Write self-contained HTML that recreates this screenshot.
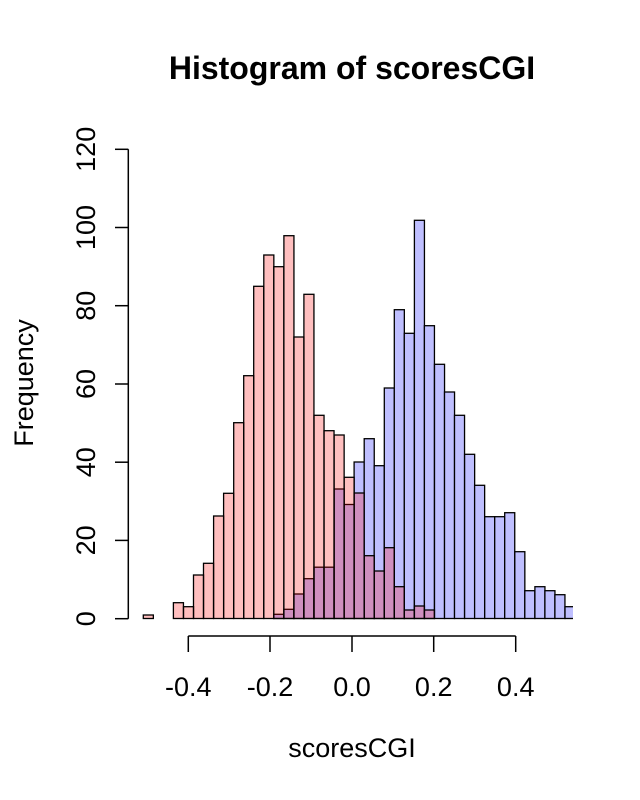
<!DOCTYPE html>
<html><head><meta charset="utf-8"><style>
html,body{margin:0;padding:0;background:#fff;}
svg{display:block;}
text{font-family:"Liberation Sans",Arial,sans-serif;fill:#000;}
</style></head><body>
<svg width="640" height="800" viewBox="0 0 640 800" xmlns="http://www.w3.org/2000/svg">
<defs><clipPath id="c"><rect x="100" y="100" width="473" height="530"/></clipPath></defs>
<text x="352" y="79" font-size="32" font-weight="bold" text-anchor="middle">Histogram of scoresCGI</text>
<text x="352" y="757" font-size="27" text-anchor="middle">scoresCGI</text>
<text transform="translate(33,383) rotate(-90)" font-size="27" text-anchor="middle">Frequency</text>
<g clip-path="url(#c)" stroke="#000" stroke-width="1.3">
<g fill="rgb(191,191,255)">
<rect x="273.8" y="614.3" width="10.04" height="4.2"/>
<rect x="283.9" y="609.3" width="10.04" height="9.2"/>
<rect x="293.9" y="594" width="10.04" height="24.5"/>
<rect x="303.9" y="578.7" width="10.04" height="39.8"/>
<rect x="314.0" y="567.2" width="10.04" height="51.3"/>
<rect x="324.0" y="567.2" width="10.04" height="51.3"/>
<rect x="334.1" y="489" width="10.04" height="129.5"/>
<rect x="344.1" y="504.5" width="10.04" height="114"/>
<rect x="354.1" y="462" width="10.04" height="156.5"/>
<rect x="364.2" y="438.7" width="10.04" height="179.8"/>
<rect x="374.2" y="465.7" width="10.04" height="152.8"/>
<rect x="384.3" y="388" width="10.04" height="230.5"/>
<rect x="394.3" y="309.7" width="10.04" height="308.8"/>
<rect x="404.3" y="333.3" width="10.04" height="285.2"/>
<rect x="414.4" y="220.3" width="10.04" height="398.2"/>
<rect x="424.4" y="325.7" width="10.04" height="292.8"/>
<rect x="434.5" y="364.3" width="10.04" height="254.2"/>
<rect x="444.5" y="392" width="10.04" height="226.5"/>
<rect x="454.5" y="415.3" width="10.04" height="203.2"/>
<rect x="464.6" y="454.3" width="10.04" height="164.2"/>
<rect x="474.6" y="485.3" width="10.04" height="133.2"/>
<rect x="484.7" y="516.7" width="10.04" height="101.8"/>
<rect x="494.7" y="516.7" width="10.04" height="101.8"/>
<rect x="504.7" y="512.7" width="10.04" height="105.8"/>
<rect x="514.8" y="551.7" width="10.04" height="66.8"/>
<rect x="524.8" y="590.7" width="10.04" height="27.8"/>
<rect x="534.9" y="586.7" width="10.04" height="31.8"/>
<rect x="544.9" y="590.7" width="10.04" height="27.8"/>
<rect x="554.9" y="594.7" width="10.04" height="23.8"/>
<rect x="565.0" y="606.7" width="10.04" height="11.8"/>
</g>
<g fill="rgba(255,0,0,0.25)">
<rect x="143.3" y="615" width="10.04" height="3.5"/>
<rect x="153.3" y="618.5" width="10.04" height="0"/>
<rect x="163.4" y="618.5" width="10.04" height="0"/>
<rect x="173.4" y="602.7" width="10.04" height="15.8"/>
<rect x="183.5" y="606.7" width="10.04" height="11.8"/>
<rect x="193.5" y="575" width="10.04" height="43.5"/>
<rect x="203.5" y="563.3" width="10.04" height="55.2"/>
<rect x="213.6" y="516" width="10.04" height="102.5"/>
<rect x="223.6" y="493.3" width="10.04" height="125.2"/>
<rect x="233.7" y="422.7" width="10.04" height="195.8"/>
<rect x="243.7" y="375.7" width="10.04" height="242.8"/>
<rect x="253.7" y="286.3" width="10.04" height="332.2"/>
<rect x="263.8" y="255" width="10.04" height="363.5"/>
<rect x="273.8" y="266.7" width="10.04" height="351.8"/>
<rect x="283.9" y="235.7" width="10.04" height="382.8"/>
<rect x="293.9" y="337" width="10.04" height="281.5"/>
<rect x="303.9" y="294.3" width="10.04" height="324.2"/>
<rect x="314.0" y="415.3" width="10.04" height="203.2"/>
<rect x="324.0" y="430.7" width="10.04" height="187.8"/>
<rect x="334.1" y="435" width="10.04" height="183.5"/>
<rect x="344.1" y="477.3" width="10.04" height="141.2"/>
<rect x="354.1" y="493" width="10.04" height="125.5"/>
<rect x="364.2" y="555.7" width="10.04" height="62.8"/>
<rect x="374.2" y="571" width="10.04" height="47.5"/>
<rect x="384.3" y="547.7" width="10.04" height="70.8"/>
<rect x="394.3" y="586.7" width="10.04" height="31.8"/>
<rect x="404.3" y="610" width="10.04" height="8.5"/>
<rect x="414.4" y="606" width="10.04" height="12.5"/>
<rect x="424.4" y="610" width="10.04" height="8.5"/>
</g>
</g>
<g stroke="#000" stroke-width="1.5" fill="none">
<line x1="128.3" y1="149.3" x2="128.3" y2="618.7"/>
<line x1="115" y1="149.3" x2="128.3" y2="149.3"/>
<line x1="115" y1="227.5" x2="128.3" y2="227.5"/>
<line x1="115" y1="305.7" x2="128.3" y2="305.7"/>
<line x1="115" y1="384" x2="128.3" y2="384"/>
<line x1="115" y1="462.2" x2="128.3" y2="462.2"/>
<line x1="115" y1="540.4" x2="128.3" y2="540.4"/>
<line x1="115" y1="618.7" x2="128.3" y2="618.7"/>
<line x1="188.3" y1="636" x2="515.7" y2="636"/>
<line x1="188.3" y1="636" x2="188.3" y2="652"/>
<line x1="270" y1="636" x2="270" y2="652"/>
<line x1="352" y1="636" x2="352" y2="652"/>
<line x1="433.7" y1="636" x2="433.7" y2="652"/>
<line x1="515.7" y1="636" x2="515.7" y2="652"/>
</g>
<g font-size="27" text-anchor="middle">
<text x="188.3" y="696">-0.4</text>
<text x="270" y="696">-0.2</text>
<text x="352" y="696">0.0</text>
<text x="433.7" y="696">0.2</text>
<text x="515.7" y="696">0.4</text>
</g>
<g font-size="27" text-anchor="middle">
<text transform="translate(95,149.3) rotate(-90)">120</text>
<text transform="translate(95,227.5) rotate(-90)">100</text>
<text transform="translate(95,305.7) rotate(-90)">80</text>
<text transform="translate(95,384) rotate(-90)">60</text>
<text transform="translate(95,462.2) rotate(-90)">40</text>
<text transform="translate(95,540.4) rotate(-90)">20</text>
<text transform="translate(95,618.7) rotate(-90)">0</text>
</g>
</svg>
</body></html>
